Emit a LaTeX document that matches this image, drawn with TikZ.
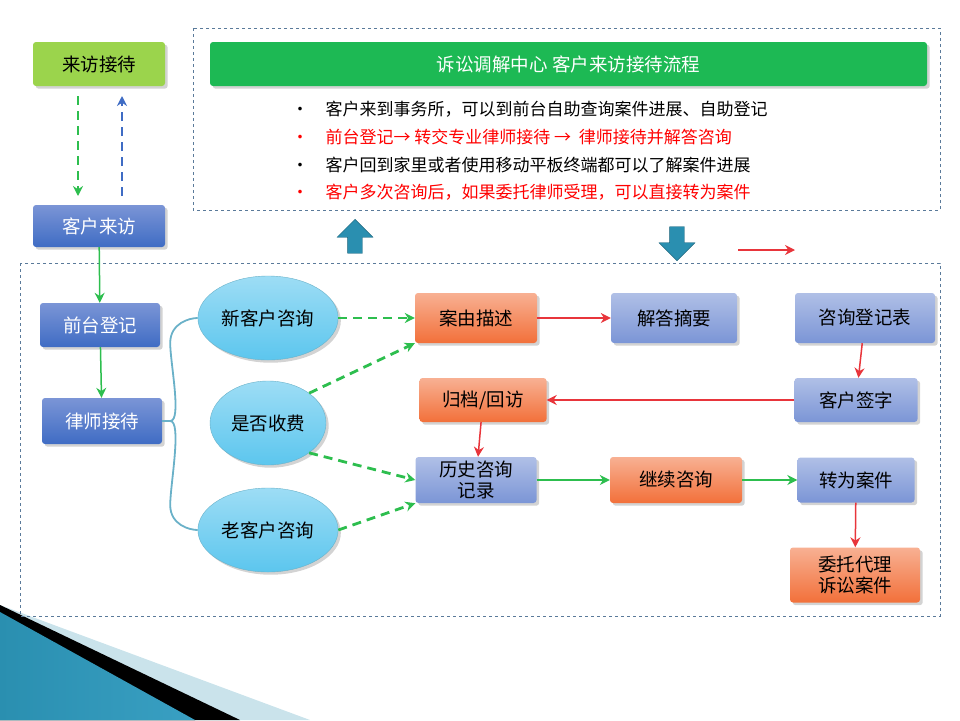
\documentclass[tikz,border=0pt]{standalone}
\usepackage{fontspec}
\setmainfont{Noto Sans CJK SC}
\usetikzlibrary{arrows.meta,shapes.geometric,shapes.arrows,shadows}
\definecolor{bluebox}{HTML}{3F6CC4}
\definecolor{lavbox}{HTML}{7B95D6}
\definecolor{orangebox}{HTML}{F2703A}
\definecolor{lightgreen}{HTML}{9BD44C}
\definecolor{titlegreen}{HTML}{1DB954}
\definecolor{skyblue}{HTML}{5CC6EE}
\definecolor{teal}{HTML}{2A8FB0}
\definecolor{arrowgreen}{HTML}{2DBE4E}
\definecolor{arrowred}{HTML}{E8353B}
\definecolor{frameblue}{HTML}{5A7A9A}
\tikzset{>={Stealth[length=10pt,width=10pt]}}
\tikzset{
  box/.style={rounded corners=3pt,minimum height=44pt,align=center,font=\fontsize{18.5}{21}\selectfont,drop shadow={opacity=0.35}},
  bluebx/.style={box,top color=lavbox,bottom color=bluebox,text=white},
  lavbx/.style={box,top color=lavbox!60,bottom color=lavbox,text=black},
  orangebx/.style={box,top color=orangebox!55,bottom color=orangebox,text=black},
  bubble/.style={ellipse,draw=teal!70,top color=skyblue!60,bottom color=skyblue,minimum width=116pt,minimum height=84pt,font=\fontsize{18.5}{20}\selectfont,drop shadow={opacity=0.35}},
  frame/.style={draw=frameblue,dashed,thin},
  gdash/.style={->,arrowgreen,line width=2.8pt,dash pattern=on 9pt off 6pt},
  gline/.style={->,arrowgreen,line width=1.5pt},
  rline/.style={->,arrowred,line width=1.5pt},
  bullet/.style={anchor=west,font=\fontsize{17}{19}\selectfont}
}
\begin{document}
\begin{tikzpicture}[x=1pt,y=-1pt]
\useasboundingbox (0,0) rectangle (960,720);
% corner decoration
\fill[teal!25] (0,605) -- (310,720) -- (0,720) -- cycle;
\fill[black] (0,605) -- (240,720) -- (0,720) -- cycle;
\fill[left color=teal,right color=teal!70!skyblue] (0,612) -- (195,720) -- (0,720) -- cycle;
% frames
\draw[frame] (193,28) rectangle (940,210);
\draw[frame] (20,263) rectangle (940,616);
% nodes
\node[box,fill=lightgreen,minimum width=132pt] (visit) at (99,64) {来访接待};
\node[box,fill=titlegreen,text=white,minimum width=717pt] (title) at (568.5,64) {诉讼调解中心\ 客户来访接待流程};
\node[bullet] (t1) at (288,109) {•\quad 客户来到事务所，可以到前台自助查询案件进展、自助登记};
\node[bullet,text=red] (t2) at (288,137) {•\quad 前台登记→ 转交专业律师接待 →\ \ 律师接待并解答咨询};
\node[bullet] (t3) at (288,165) {•\quad 客户回到家里或者使用移动平板终端都可以了解案件进展};
\node[bullet,text=red] (t4) at (288,192) {•\quad 客户多次咨询后，如果委托律师受理，可以直接转为案件};
\node[bluebx,minimum width=132pt,minimum height=42pt] (client) at (99,226) {客户来访};
\node[bluebx,minimum width=120pt] (desk) at (100,325) {前台登记};
\node[bluebx,minimum width=120pt,minimum height=46pt] (lawyer) at (102,421) {律师接待};
\node[bubble] (new) at (268,318) {新客户咨询};
\node[bubble] (fee) at (268,423) {是否收费};
\node[bubble] (old) at (268,530) {老客户咨询};
\node[orangebx,minimum width=122pt,minimum height=50pt] (cause) at (476,318) {案由描述};
\node[lavbx,minimum width=126pt,minimum height=50pt] (answer) at (674,318) {解答摘要};
\node[lavbx,minimum width=140pt,minimum height=50pt] (form) at (865,318) {咨询登记表};
\node[orangebx,minimum width=127pt] (archive) at (483,400) {归档/回访};
\node[lavbx,minimum width=123pt] (sign) at (856,400) {客户签字};
\node[lavbx,minimum width=121pt,minimum height=46pt,inner sep=1pt] (history) at (476,480) {历史咨询\\记录};
\node[orangebx,minimum width=132pt,minimum height=46pt] (cont) at (676,480) {继续咨询};
\node[lavbx,minimum width=117pt,minimum height=45pt] (case) at (856,480) {转为案件};
\node[orangebx,minimum width=130pt,minimum height=55pt,inner sep=2pt] (entrust) at (855,575) {委托代理\\诉讼案件};
% block arrows
\node[single arrow,shape border rotate=90,fill=teal,draw=teal!70!black,minimum height=34pt,minimum width=36pt,single arrow head extend=5pt] (up) at (355,240) {};
\node[single arrow,shape border rotate=270,fill=teal,draw=teal!70!black,minimum height=34pt,minimum width=36pt,single arrow head extend=5pt] (down) at (677,240) {};
\coordinate (ra) at (738,250);
\coordinate (rb) at (795,250);
\draw[rline,line width=2.2pt] (ra) -- (rb);
% connectors
\draw[gdash] (78,96) -- (78,196);
\draw[->,bluebox,line width=2.8pt,dash pattern=on 9pt off 6pt] (122,196) -- (122,96);
\draw[gline] (client) -- (desk);
\draw[gline] (desk) -- (lawyer);
\draw[teal!70,line width=1.8pt] (lawyer.east) -- ++(8,0) coordinate (br)
  (br) .. controls ++(12,0) and ++(0,20) .. ([yshift=-25pt]new.west-|br) coordinate (b1)
  (b1) .. controls ++(0,-20) and ++(-8,0) .. (new.west)
  (br) .. controls ++(12,0) and ++(0,-20) .. ([yshift=25pt]old.west-|br) coordinate (b2)
  (b2) .. controls ++(0,20) and ++(-8,0) .. (old.west);
\draw[gdash] (new) -- (cause);
\draw[gdash] (fee.north east) -- (cause.south west);
\draw[gdash] (fee.south east) -- (history.west);
\draw[gdash] (old.east) -- (history.south west);
\draw[rline] (cause) -- (answer);
\draw[rline] (form) -- (sign);
\draw[rline] (sign) -- (archive);
\draw[rline] (archive) -- (history);
\draw[gline] (history) -- (cont);
\draw[gline] (cont) -- (case);
\draw[rline] (case) -- (entrust);
\end{tikzpicture}
\end{document}
